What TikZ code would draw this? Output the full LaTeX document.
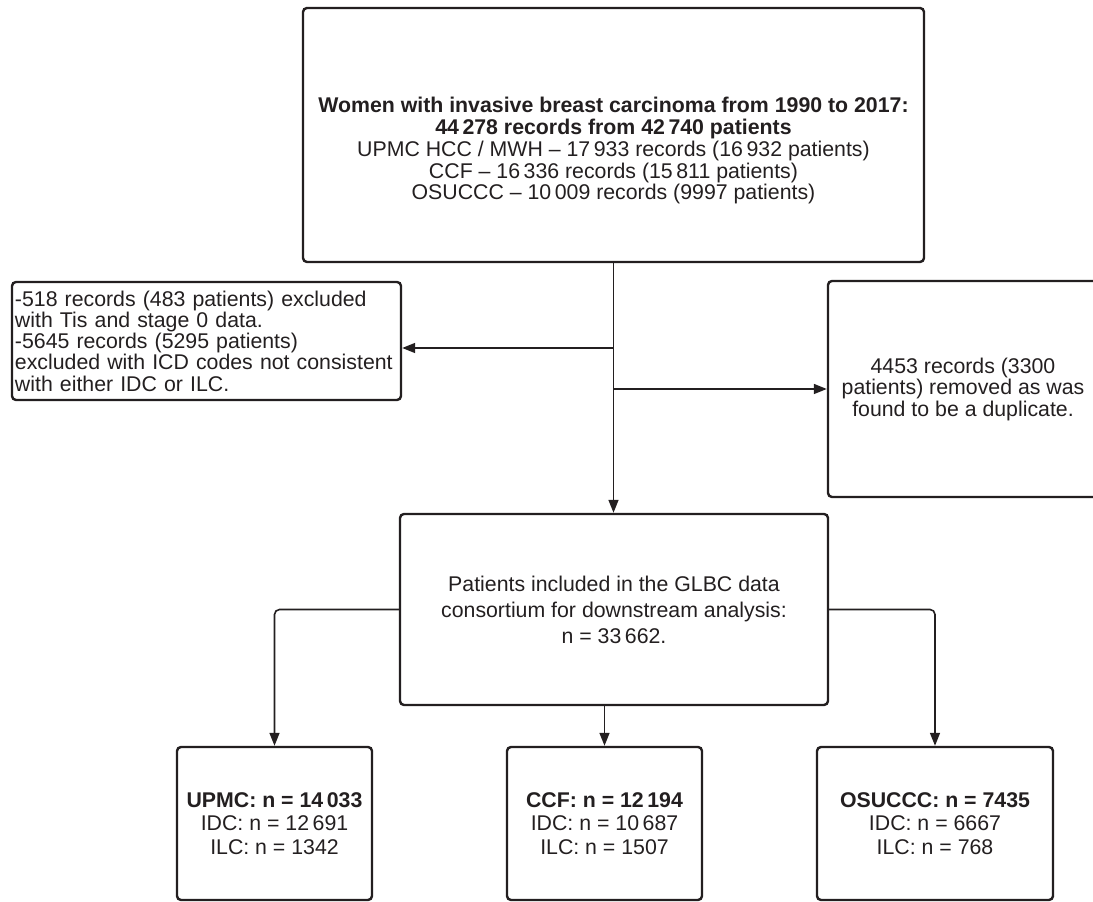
\documentclass[tikz,border=0pt]{standalone}
\usepackage{fontspec}
\setmainfont{Liberation Sans}
\usetikzlibrary{arrows.meta}
\definecolor{ink}{HTML}{231F20}
\begin{document}
\begin{tikzpicture}[x=1bp,y=1bp,
    box/.style={draw=ink, line width=2.4bp, rounded corners=4bp, inner sep=2bp,
      text=ink, align=center, font=\fontsize{21.3bp}{26bp}\selectfont},
    sitebox/.style={box, minimum width=195bp, minimum height=153bp,
      font=\fontsize{21.3bp}{23.5bp}\selectfont},
    link/.style={draw=ink, line width=1.6bp, -{Triangle[length=13bp,width=10bp]}},
    elbow/.style={link, rounded corners=5bp}]
  \useasboundingbox (0,0) rectangle (1093,902);

  \node[box, minimum width=621bp, minimum height=254bp,
    font=\fontsize{21.3bp}{21.8bp}\selectfont] (women) at (613.5,767)
    {\rule{0pt}{47bp}\textbf{Women with invasive breast carcinoma from 1990 to 2017:}\\
     \textbf{44\,278 records from 42\,740 patients}\\
     UPMC HCC / MWH – 17\,933 records (16\,932 patients)\\
     CCF – 16\,336 records (15\,811 patients)\\
     OSUCCC – 10\,009 records (9997 patients)};

  \node[box, align=left, minimum width=389bp, minimum height=118bp, text width=383bp,
    font=\fontsize{21.3bp}{21.2bp}\selectfont] (excl) at (206.5,561)
    {-518 records (483 patients) excluded\\
     with Tis and stage 0 data.\\
     -5645 records (5295 patients)\\
     excluded with ICD codes not consistent\\
     with either IDC or ILC.};

  \node[box, minimum width=270bp, minimum height=216bp,
    font=\fontsize{21.3bp}{21.5bp}\selectfont] (dup) at (963,513)
    {4453 records (3300\\ patients) removed as was\\ found to be a duplicate.};

  \node[box, minimum width=428bp, minimum height=191bp] (glbc) at (614,292.5)
    {Patients included in the GLBC data\\
     consortium for downstream analysis:\\
     n = 33\,662.};

  \node[sitebox] (upmc) at (274.5,78.5)
    {\textbf{UPMC: n = 14\,033}\\ IDC: n = 12\,691\\ ILC: n = 1342};
  \node[sitebox] (ccf) at (604.5,78.5)
    {\textbf{CCF: n = 12\,194}\\ IDC: n = 10\,687\\ ILC: n = 1507};
  \node[sitebox, minimum width=236bp] (osu) at (935,78.5)
    {\textbf{OSUCCC: n = 7435}\\ IDC: n = 6667\\ ILC: n = 768};

  \coordinate (splitl) at (613.5,554);
  \coordinate (splitr) at (613.5,513);
  \draw[link] (women.south) -- (women.south |- glbc.north);
  \draw[link] (splitl) -- (splitl -| excl.east);
  \draw[link] (splitr) -- (dup.west);
  \draw[elbow] (glbc.west) -| (upmc.north);
  \draw[elbow] (glbc.east) -| (osu.north);
  \draw[link] (ccf.north |- glbc.south) -- (ccf.north);
\end{tikzpicture}
\end{document}
